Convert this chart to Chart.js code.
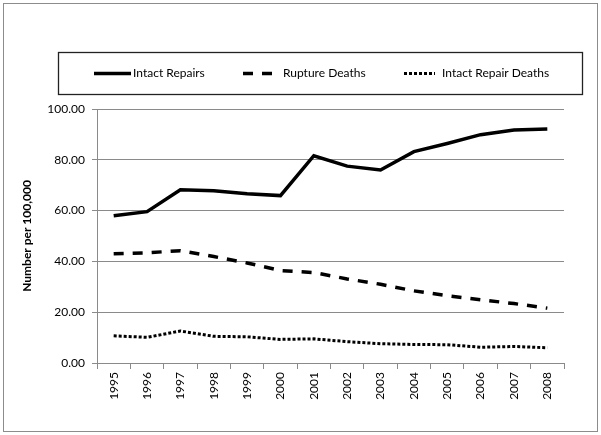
<!DOCTYPE html>
<html>
<head>
<meta charset="utf-8">
<script src="https://cdn.jsdelivr.net/npm/chart.js@4.4.1/dist/chart.umd.min.js"></script>
<style>
  html, body { margin: 0; padding: 0; background: #fff; }
  #wrap { width: 601px; height: 435px; }
</style>
</head>
<body>
<div id="wrap"><canvas id="chart" width="601" height="435"></canvas></div>
<script>
const years = ["1995", "1996", "1997", "1998", "1999", "2000", "2001",
  "2002", "2003", "2004", "2005", "2006", "2007", "2008"];
const intactRepairs = [58.0, 59.6, 68.2, 67.8, 66.6, 65.9, 81.6, 77.5, 76.0, 83.2, 86.4, 89.9, 91.7, 92.1];
const ruptureDeaths = [43.0, 43.4, 44.2, 41.9, 39.4, 36.4, 35.6, 33.1, 31.0, 28.4, 26.5, 24.9, 23.4, 21.6];
const intactRepairDeaths = [10.7, 10.1, 12.6, 10.5, 10.3, 9.3, 9.5, 8.4, 7.6, 7.3, 7.2, 6.2, 6.5, 6.0];
const yMin = 0;
const yMax = 100;
const yStep = 20;

const FONT = "Lato, 'Open Sans', sans-serif";
const GRID = "#8a8a8a";

// outer frame + boxed legend drawn by hand, like the original spreadsheet chart
const framePlugin = {
  id: "frame",
  beforeDraw(chart) {
    const ctx = chart.ctx;
    ctx.save();
    ctx.fillStyle = "#fff";
    ctx.fillRect(0, 0, chart.width, chart.height);
    ctx.strokeStyle = "#8c8c8c";
    ctx.lineWidth = 1;
    ctx.strokeRect(3.5, 3.5, 594, 428);
    ctx.restore();
  },
  afterDraw(chart) {
    const ctx = chart.ctx;
    ctx.save();
    ctx.strokeStyle = "#222";
    ctx.lineWidth = 1.3;
    ctx.strokeRect(58.5, 52.5, 524, 42);

    const lineX = [94, 243, 404];
    const lineLen = [37, 32, 31];
    const textX = [133, 283, 442];
    const y = 73.5;
    ctx.font = "12px " + FONT;
    ctx.textBaseline = "middle";
    ctx.fillStyle = "#000";
    chart.data.datasets.forEach((ds, i) => {
      ctx.beginPath();
      ctx.setLineDash(ds.borderDash || []);
      ctx.lineWidth = ds.borderWidth;
      ctx.strokeStyle = ds.borderColor;
      ctx.moveTo(lineX[i], y);
      ctx.lineTo(lineX[i] + lineLen[i], y);
      ctx.stroke();
      ctx.fillText(ds.label, textX[i], y);
    });
    ctx.restore();
  },
};

const ctx = document.getElementById("chart").getContext("2d");
new Chart(ctx, {
  type: "line",
  data: {
    labels: years,
    datasets: [
      {
        label: "Intact Repairs",
        data: intactRepairs,
        borderColor: "#000",
        borderWidth: 3.5,
      },
      {
        label: "Rupture Deaths",
        data: ruptureDeaths,
        borderColor: "#000",
        borderWidth: 3.5,
        borderDash: [10, 9],
      },
      {
        label: "Intact Repair Deaths",
        data: intactRepairDeaths,
        borderColor: "#000",
        borderWidth: 3,
        borderDash: [3, 2],
      },
    ],
  },
  options: {
    responsive: false,
    devicePixelRatio: 1,
    animation: false,
    elements: {
      line: { tension: 0, fill: false, borderCapStyle: "butt" },
      point: { radius: 0, hoverRadius: 0 },
    },
    layout: { padding: { left: 20, right: 37, top: 109, bottom: 0 } },
    plugins: {
      legend: { display: false },
      tooltip: { enabled: false },
    },
    scales: {
      x: {
        offset: true,
        grid: {
          offset: true,
          drawOnChartArea: false,
          tickLength: 6,
          color: GRID,
        },
        border: { color: GRID, width: 1 },
        ticks: {
          autoSkip: false,
          minRotation: 90,
          maxRotation: 90,
          padding: 3,
          color: "#000",
          font: { family: FONT, size: 12 },
        },
        afterFit: (scale) => { scale.height = 72; },
      },
      y: {
        min: yMin,
        max: yMax,
        grid: { color: GRID, tickLength: 5 },
        border: { color: GRID, width: 1 },
        ticks: {
          stepSize: yStep,
          padding: 7,
          color: "#000",
          font: { family: FONT, size: 12 },
          callback: (v) => Number(v).toFixed(2),
        },
        title: {
          display: true,
          text: "Number per 100,000",
          color: "#000",
          padding: { top: 0, bottom: 0 },
          font: { family: FONT, size: 12, weight: "bold" },
        },
        afterFit: (scale) => { scale.width = 77; },
      },
    },
  },
  plugins: [framePlugin],
});
</script>
</body>
</html>
